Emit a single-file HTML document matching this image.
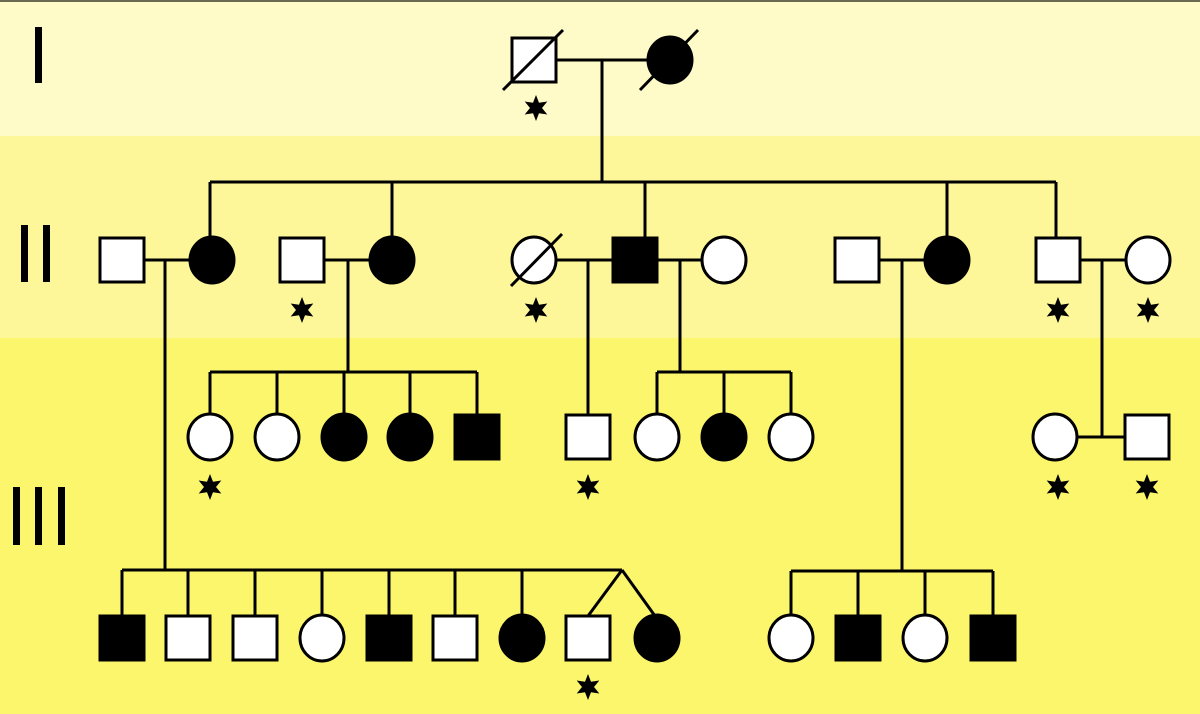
<!DOCTYPE html>
<html><head><meta charset="utf-8"><style>html,body{margin:0;padding:0}svg{display:block}</style></head>
<body>
<svg width="1200" height="714" viewBox="0 0 1200 714" xmlns="http://www.w3.org/2000/svg">
<defs>
<polygon id="st" points="0,-13 3,-5.2 11.3,-6.5 6,0 11.3,6.5 3,5.2 0,13 -3,5.2 -11.3,6.5 -6,0 -11.3,-6.5 -3,-5.2" fill="#000"/>
</defs>
<rect x="0" y="0" width="1200" height="136" fill="#fefbc8"/>
<rect x="0" y="136" width="1200" height="202" fill="#fdf79a"/>
<rect x="0" y="338" width="1200" height="376" fill="#fcf66c"/>
<rect x="0" y="0" width="1200" height="2" fill="#6a6a50"/>
<!-- roman numerals -->
<g fill="#000">
<rect x="35" y="27" width="7" height="56"/>
<rect x="21" y="225" width="7" height="57"/><rect x="43" y="225" width="7" height="57"/>
<rect x="13" y="487" width="7" height="58"/><rect x="35" y="487" width="7" height="58"/><rect x="58" y="487" width="7" height="58"/>
</g>
<g stroke="#000" stroke-width="3" fill="none">
<!-- gen I -->
<line x1="556" y1="60" x2="648" y2="60"/>
<line x1="602" y1="60" x2="602" y2="182"/>
<line x1="210" y1="182" x2="1056" y2="182"/>
<line x1="210" y1="182" x2="210" y2="238"/>
<line x1="392" y1="182" x2="392" y2="238"/>
<line x1="645" y1="182" x2="645" y2="238"/>
<line x1="947" y1="182" x2="947" y2="238"/>
<line x1="1056" y1="182" x2="1056" y2="238"/>
<!-- gen II marriages -->
<line x1="144" y1="260" x2="190" y2="260"/>
<line x1="324" y1="260" x2="370" y2="260"/>
<line x1="556" y1="260" x2="613" y2="260"/>
<line x1="657" y1="260" x2="702" y2="260"/>
<line x1="879" y1="260" x2="925" y2="260"/>
<line x1="1080" y1="260" x2="1126" y2="260"/>
<line x1="165" y1="260" x2="165" y2="570"/>
<line x1="348" y1="260" x2="348" y2="372"/>
<line x1="588" y1="260" x2="588" y2="415"/>
<line x1="680" y1="260" x2="680" y2="372"/>
<line x1="902" y1="260" x2="902" y2="570"/>
<line x1="1102" y1="260" x2="1102" y2="437"/>
<!-- gen III -->
<line x1="210" y1="372" x2="477" y2="372"/>
<line x1="210" y1="372" x2="210" y2="414"/><line x1="277" y1="372" x2="277" y2="414"/><line x1="344" y1="372" x2="344" y2="414"/><line x1="410" y1="372" x2="410" y2="414"/><line x1="477" y1="372" x2="477" y2="415"/>
<line x1="657" y1="372" x2="791" y2="372"/>
<line x1="657" y1="372" x2="657" y2="414"/><line x1="724" y1="372" x2="724" y2="414"/><line x1="791" y1="372" x2="791" y2="414"/>
<line x1="1077" y1="437" x2="1125" y2="437"/>
<!-- gen IV -->
<line x1="122" y1="570" x2="622" y2="570"/>
<line x1="122" y1="570" x2="122" y2="616"/><line x1="188" y1="570" x2="188" y2="616"/><line x1="255" y1="570" x2="255" y2="616"/><line x1="322" y1="570" x2="322" y2="614"/><line x1="389" y1="570" x2="389" y2="616"/><line x1="455" y1="570" x2="455" y2="616"/><line x1="522" y1="570" x2="522" y2="614"/>
<line x1="622" y1="570" x2="588" y2="616"/><line x1="622" y1="570" x2="655" y2="616"/>
<line x1="791" y1="571" x2="993" y2="571"/>
<line x1="791" y1="571" x2="791" y2="614"/><line x1="858" y1="571" x2="858" y2="616"/><line x1="925" y1="571" x2="925" y2="614"/><line x1="993" y1="571" x2="993" y2="616"/>
</g>
<g stroke="#000" stroke-width="3">
<!-- gen I -->
<rect x="512" y="38" width="44" height="44" fill="#fff"/>
<line x1="503" y1="90" x2="563" y2="30"/>
<ellipse cx="670" cy="60" rx="22" ry="23" fill="#000"/>
<line x1="640" y1="90" x2="698" y2="30"/>
<!-- gen II -->
<rect x="100" y="238" width="44" height="44" fill="#fff"/>
<ellipse cx="212" cy="260" rx="22" ry="23" fill="#000"/>
<rect x="280" y="238" width="44" height="44" fill="#fff"/>
<ellipse cx="392" cy="260" rx="22" ry="23" fill="#000"/>
<ellipse cx="534" cy="260" rx="22" ry="23" fill="#fff"/>
<line x1="511" y1="286" x2="562" y2="234"/>
<rect x="613" y="238" width="44" height="44" fill="#000"/>
<ellipse cx="724" cy="260" rx="22" ry="23" fill="#fff"/>
<rect x="835" y="238" width="44" height="44" fill="#fff"/>
<ellipse cx="947" cy="260" rx="22" ry="23" fill="#000"/>
<rect x="1036" y="238" width="44" height="44" fill="#fff"/>
<ellipse cx="1148" cy="260" rx="22" ry="23" fill="#fff"/>
<!-- gen III -->
<ellipse cx="210" cy="437" rx="22" ry="23" fill="#fff"/>
<ellipse cx="277" cy="437" rx="22" ry="23" fill="#fff"/>
<ellipse cx="344" cy="437" rx="22" ry="23" fill="#000"/>
<ellipse cx="410" cy="437" rx="22" ry="23" fill="#000"/>
<rect x="455" y="415" width="44" height="44" fill="#000"/>
<rect x="566" y="415" width="44" height="44" fill="#fff"/>
<ellipse cx="657" cy="437" rx="22" ry="23" fill="#fff"/>
<ellipse cx="724" cy="437" rx="22" ry="23" fill="#000"/>
<ellipse cx="791" cy="437" rx="22" ry="23" fill="#fff"/>
<ellipse cx="1055" cy="437" rx="22" ry="23" fill="#fff"/>
<rect x="1125" y="415" width="44" height="44" fill="#fff"/>
<!-- gen IV -->
<rect x="100" y="616" width="44" height="44" fill="#000"/>
<rect x="166" y="616" width="44" height="44" fill="#fff"/>
<rect x="233" y="616" width="44" height="44" fill="#fff"/>
<ellipse cx="322" cy="638" rx="22" ry="23" fill="#fff"/>
<rect x="367" y="616" width="44" height="44" fill="#000"/>
<rect x="433" y="616" width="44" height="44" fill="#fff"/>
<ellipse cx="522" cy="638" rx="22" ry="23" fill="#000"/>
<rect x="566" y="616" width="44" height="44" fill="#fff"/>
<ellipse cx="657" cy="638" rx="22" ry="23" fill="#000"/>
<ellipse cx="791" cy="638" rx="22" ry="23" fill="#fff"/>
<rect x="836" y="616" width="44" height="44" fill="#000"/>
<ellipse cx="925" cy="638" rx="22" ry="23" fill="#fff"/>
<rect x="971" y="616" width="44" height="44" fill="#000"/>
</g>
<!-- stars -->
<use href="#st" x="536" y="108"/>
<use href="#st" x="302" y="310"/>
<use href="#st" x="536" y="310"/>
<use href="#st" x="1058" y="310"/>
<use href="#st" x="1148" y="310"/>
<use href="#st" x="210" y="487"/>
<use href="#st" x="588" y="487"/>
<use href="#st" x="1058" y="487"/>
<use href="#st" x="1147" y="487"/>
<use href="#st" x="588" y="687"/>
</svg>
</body></html>
